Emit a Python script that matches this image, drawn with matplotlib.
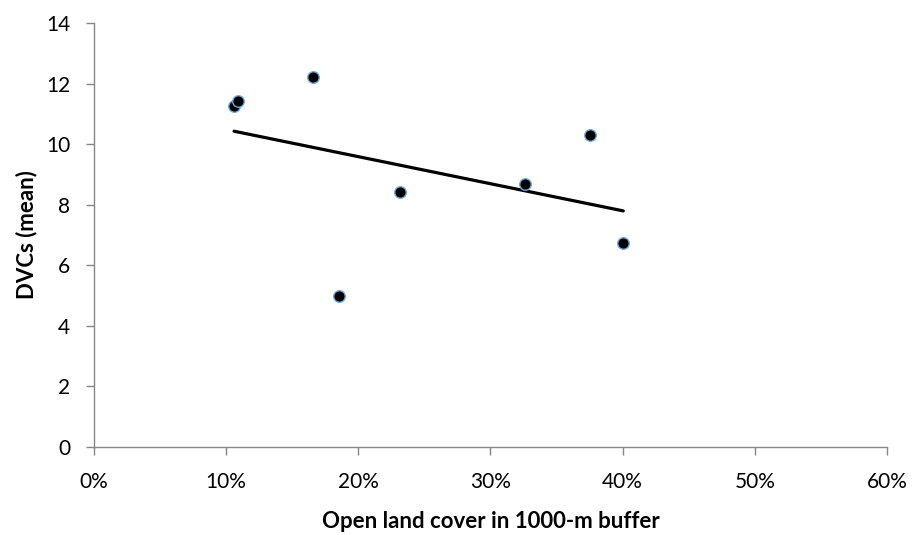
import numpy as np
import matplotlib.pyplot as plt
from matplotlib.ticker import PercentFormatter

# open land cover (fraction) and mean DVCs per site
open_land = [0.106, 0.1093, 0.1657, 0.2316, 0.1856, 0.375, 0.3258, 0.4005]
dvcs_mean = [11.25, 11.43, 12.23, 8.42, 4.99, 10.29, 8.67, 6.74]

plt.rcParams['font.family'] = ['Lato', 'DejaVu Sans']

fig = plt.figure(figsize=(9.16, 5.35), dpi=100)
ax = fig.add_axes([0.1026, 0.1645, 0.8657, 0.7925])

# linear trendline (least squares)
slope, icpt = np.polyfit(open_land, dvcs_mean, 1)
xs = np.array([min(open_land), max(open_land)])
ax.plot(xs, slope * xs + icpt, color='black', lw=2.3, solid_capstyle='round', zorder=2)

ax.plot(open_land, dvcs_mean, 'o', ms=8.3, mfc='black', mec='#6fa8dc', mew=1.0, zorder=3)

ax.set_xlim(0, 0.6)
ax.set_ylim(0, 14)
ax.set_xticks(np.arange(0, 0.61, 0.1))
ax.set_yticks(np.arange(0, 15, 2))
ax.xaxis.set_major_formatter(PercentFormatter(1.0, decimals=0))

for s in ['top', 'right']:
    ax.spines[s].set_visible(False)
for s in ['left', 'bottom']:
    ax.spines[s].set_color('#868686')
    ax.spines[s].set_linewidth(1.0)
ax.tick_params(axis='both', colors='#868686', labelcolor='black', labelsize=15,
               length=6, width=1.0, direction='out')
ax.tick_params(axis='x', pad=12)
ax.tick_params(axis='y', pad=11)

ax.set_xlabel('Open land cover in 1000-m buffer', fontsize=16, fontweight='bold', labelpad=14)
ax.set_ylabel('DVCs (mean)', fontsize=16, fontweight='bold', labelpad=6)

fig.savefig('out.png', dpi=100)
